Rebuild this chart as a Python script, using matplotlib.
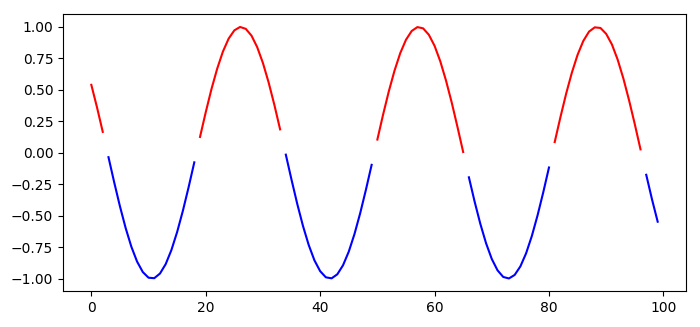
import numpy as np
import matplotlib
matplotlib.use("Agg")
import matplotlib.pyplot as plt

# значения кривой (по одной точке на индекс 0..99)
y_vals = [
    0.540, 0.360, 0.166, -0.035, -0.235, -0.425, -0.598, -0.747, -0.865, -0.948,
    -0.993, -0.997, -0.960, -0.885, -0.773, -0.630, -0.462, -0.275, -0.076, 0.126,
    0.322, 0.506, 0.668, 0.804, 0.907, 0.973, 1.000, 0.985, 0.931, 0.839,
    0.713, 0.558, 0.380, 0.186, -0.015, -0.215, -0.407, -0.582, -0.733, -0.855,
    -0.941, -0.990, -0.998, -0.966, -0.894, -0.786, -0.646, -0.480, -0.294, -0.096,
    0.105, 0.303, 0.488, 0.653, 0.792, 0.898, 0.968, 0.999, 0.989, 0.938,
    0.850, 0.727, 0.574, 0.399, 0.206, 0.006, -0.195, -0.388, -0.565, -0.719,
    -0.844, -0.934, -0.987, -0.999, -0.971, -0.903, -0.799, -0.662, -0.498, -0.314,
    -0.117, 0.085, 0.283, 0.470, 0.637, 0.779, 0.889, 0.963, 0.997, 0.992,
    0.945, 0.861, 0.741, 0.591, 0.417, 0.227, 0.027, -0.175, -0.369, -0.548,
]

y = np.array(y_vals)

# положительная часть красным, отрицательная синим
y_pos = np.ma.masked_where(y <= 0, y)
y_neg = np.ma.masked_where(y >= 0, y)

fig = plt.figure(figsize=(7, 3.27), dpi=100)
ax = fig.add_subplot(111)
ax.plot(y_pos, 'r')
ax.plot(y_neg, 'b')
fig.subplots_adjust(left=0.09, right=0.98, bottom=0.11, top=0.956)
plt.savefig("out.png")
